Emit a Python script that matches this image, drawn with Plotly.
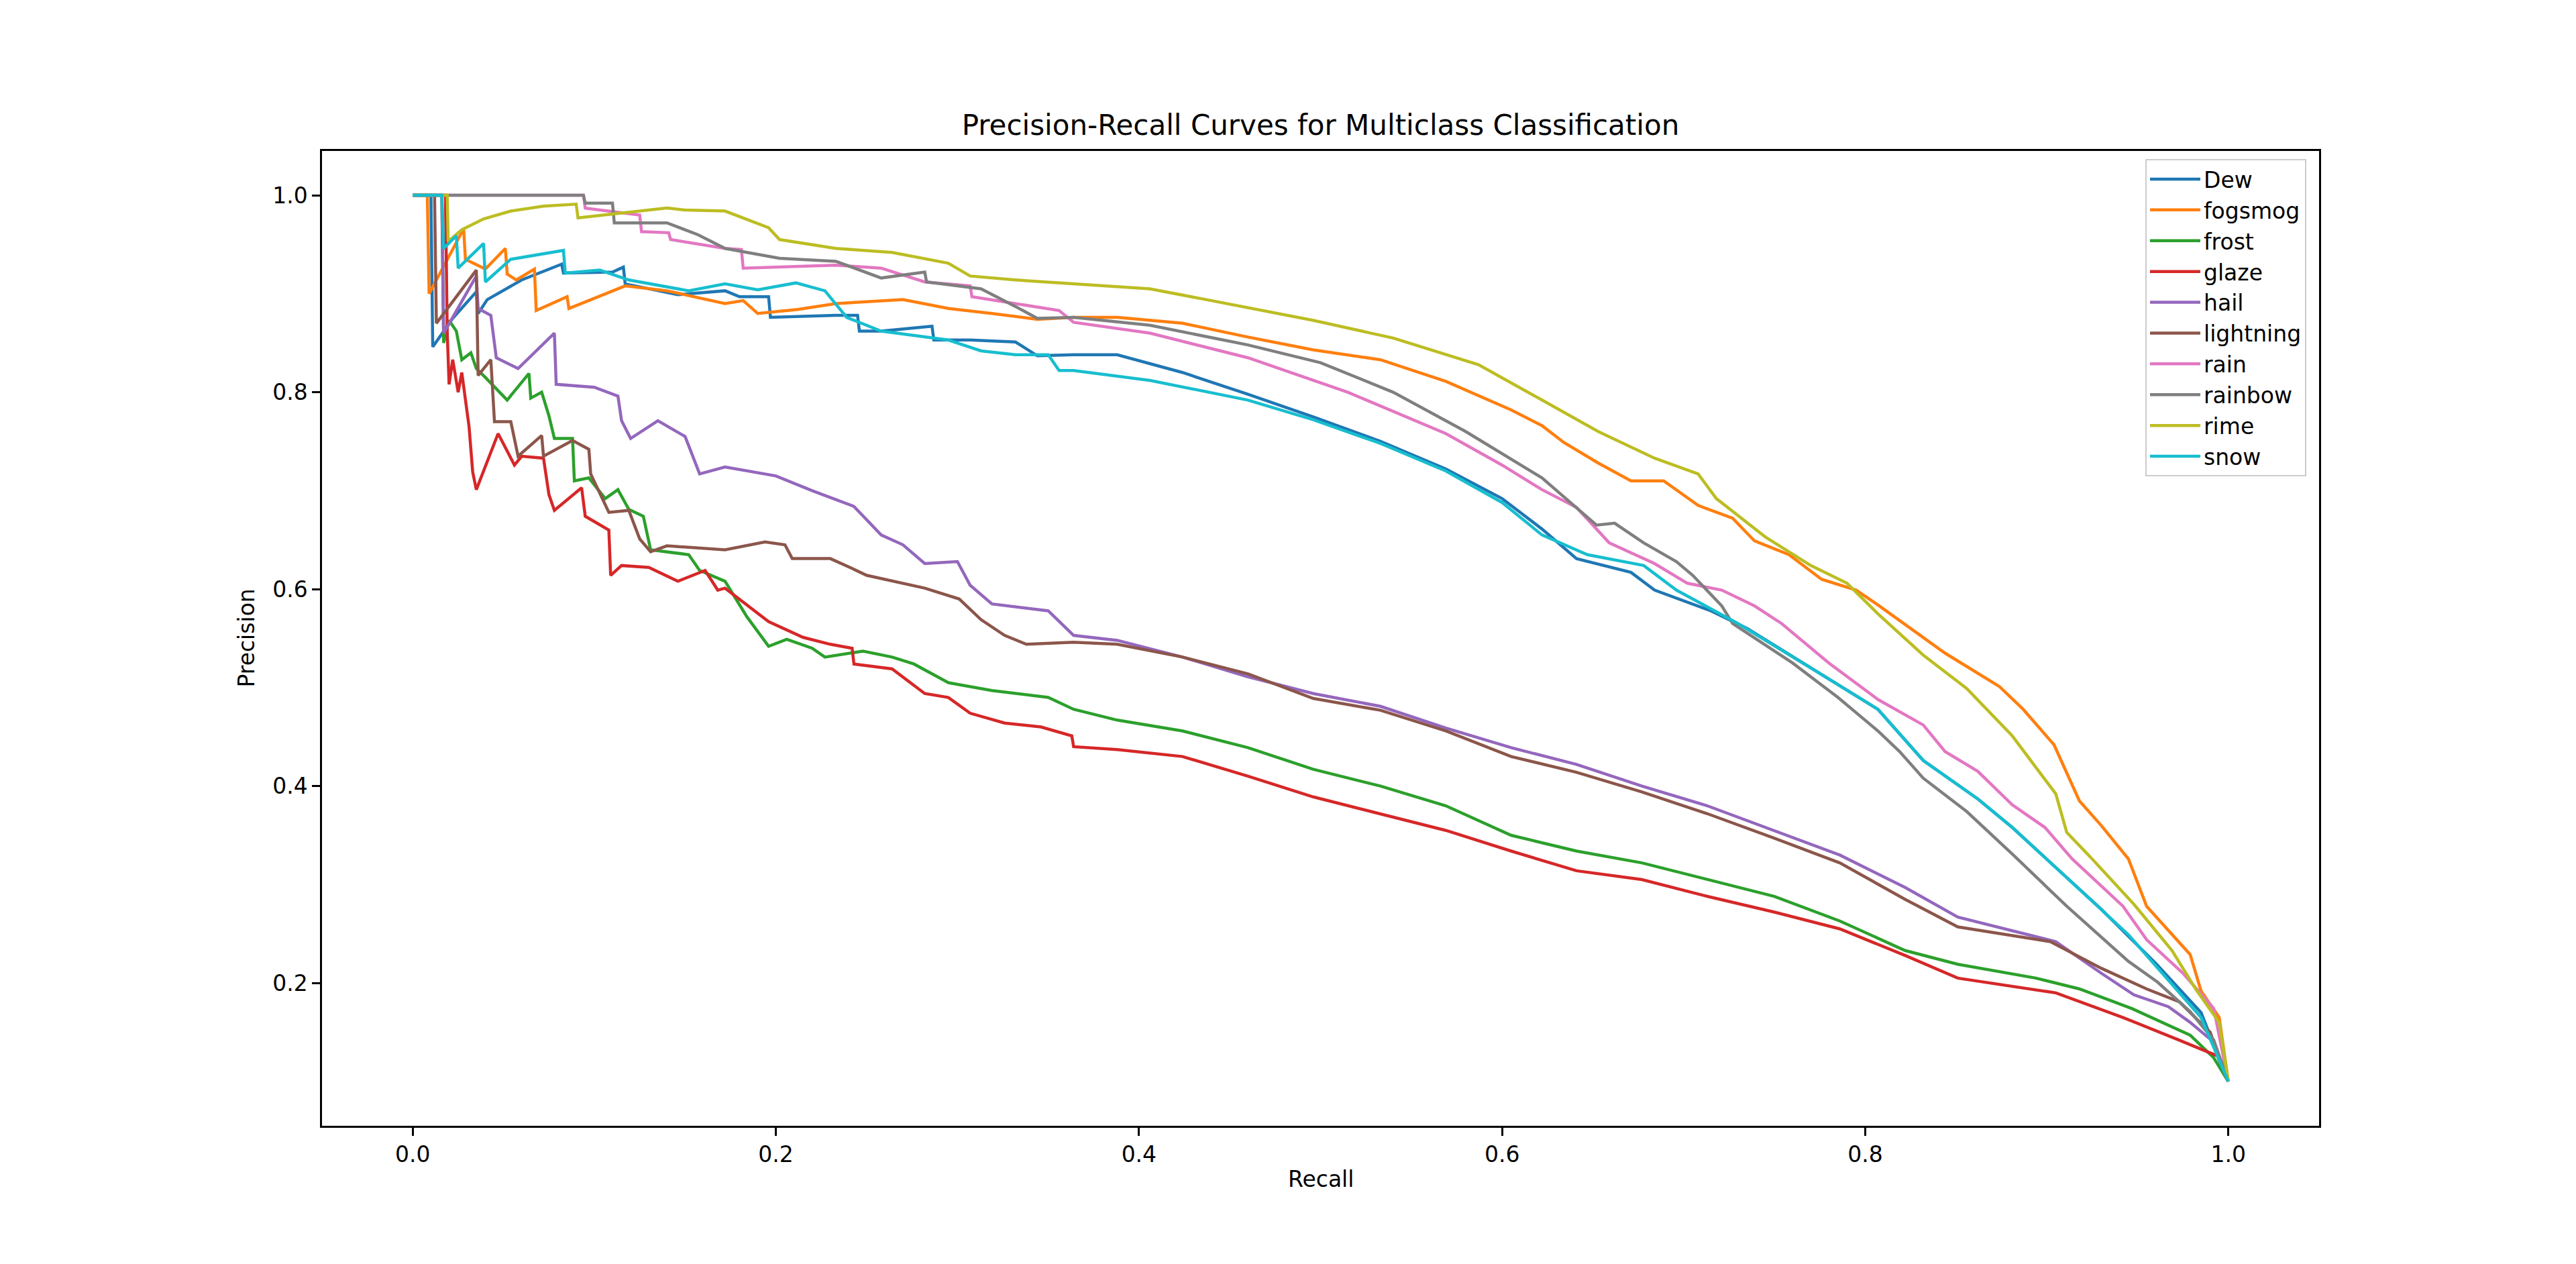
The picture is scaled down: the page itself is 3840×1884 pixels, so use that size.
import plotly.graph_objects as go

# ---- data (recall, precision) ----
class_names = ["Dew", "fogsmog", "frost", "glaze", "hail", "lightning", "rain", "rainbow", "rime", "snow"]
colors = ["#1f77b4", "#ff7f0e", "#2ca02c", "#d62728", "#9467bd",
          "#8c564b", "#e377c2", "#7f7f7f", "#bcbd22", "#17becf"]

dew = [(0, 1.0), (0.010, 1.0), (0.011, 0.846), (0.022, 0.875), (0.035, 0.902), (0.036, 0.880), (0.041, 0.894),
       (0.060, 0.914), (0.082, 0.930), (0.083, 0.921), (0.110, 0.922), (0.116, 0.927), (0.117, 0.910), (0.146, 0.899),
       (0.172, 0.903), (0.180, 0.897), (0.196, 0.897), (0.197, 0.876), (0.233, 0.878), (0.245, 0.878), (0.246, 0.862),
       (0.258, 0.862), (0.286, 0.867), (0.287, 0.853), (0.307, 0.853), (0.332, 0.851), (0.344, 0.837), (0.364, 0.838),
       (0.388, 0.838), (0.424, 0.820), (0.460, 0.798), (0.496, 0.775), (0.533, 0.750), (0.569, 0.722), (0.600, 0.692),
       (0.622, 0.661), (0.641, 0.631), (0.671, 0.617), (0.684, 0.599), (0.715, 0.578), (0.735, 0.560), (0.770, 0.520),
       (0.807, 0.478), (0.832, 0.426), (0.862, 0.387), (0.881, 0.358), (0.900, 0.326), (0.930, 0.275), (0.960, 0.220),
       (0.985, 0.170), (1.0, 0.100)]

fogsmog = [(0, 1.0), (0.008, 1.0), (0.009, 0.900), (0.028, 0.966), (0.029, 0.935), (0.040, 0.925), (0.051, 0.946),
           (0.052, 0.920), (0.057, 0.914), (0.067, 0.925), (0.068, 0.883), (0.085, 0.897), (0.086, 0.885), (0.117, 0.908),
           (0.140, 0.903), (0.172, 0.890), (0.182, 0.893), (0.190, 0.880), (0.212, 0.884), (0.233, 0.890), (0.270, 0.894),
           (0.295, 0.885), (0.319, 0.880), (0.344, 0.874), (0.364, 0.876), (0.388, 0.876), (0.424, 0.870), (0.460, 0.856),
           (0.496, 0.843), (0.533, 0.833), (0.569, 0.811), (0.605, 0.782), (0.622, 0.766), (0.634, 0.749), (0.653, 0.728),
           (0.671, 0.710), (0.689, 0.710), (0.708, 0.685), (0.727, 0.672), (0.739, 0.649), (0.758, 0.635), (0.776, 0.610),
           (0.795, 0.599), (0.807, 0.584), (0.844, 0.535), (0.874, 0.501), (0.887, 0.478), (0.904, 0.442), (0.918, 0.385),
           (0.930, 0.360), (0.945, 0.326), (0.955, 0.278), (0.979, 0.229), (0.985, 0.192), (0.995, 0.165), (1.0, 0.100)]

frost = [(0, 1.0), (0.016, 1.0), (0.017, 0.850), (0.020, 0.873), (0.024, 0.862), (0.027, 0.833), (0.032, 0.840),
         (0.035, 0.824), (0.040, 0.815), (0.052, 0.792), (0.064, 0.819), (0.065, 0.794), (0.071, 0.800), (0.075, 0.776),
         (0.078, 0.753), (0.088, 0.753), (0.089, 0.710), (0.097, 0.713), (0.106, 0.692), (0.113, 0.701), (0.119, 0.681),
         (0.127, 0.674), (0.131, 0.640), (0.152, 0.635), (0.158, 0.619), (0.172, 0.608), (0.184, 0.572), (0.196, 0.542),
         (0.206, 0.549), (0.220, 0.540), (0.227, 0.531), (0.248, 0.537), (0.264, 0.531), (0.276, 0.524), (0.295, 0.505),
         (0.319, 0.497), (0.350, 0.490), (0.364, 0.478), (0.388, 0.467), (0.424, 0.456), (0.460, 0.439), (0.496, 0.417),
         (0.533, 0.400), (0.569, 0.380), (0.605, 0.350), (0.641, 0.334), (0.677, 0.322), (0.713, 0.305), (0.750, 0.288),
         (0.786, 0.263), (0.822, 0.233), (0.851, 0.219), (0.894, 0.205), (0.918, 0.194), (0.947, 0.174), (0.979, 0.147),
         (0.992, 0.124), (1.0, 0.100)]

glaze = [(0, 1.0), (0.018, 1.0), (0.019, 0.860), (0.020, 0.808), (0.022, 0.833), (0.025, 0.800), (0.027, 0.820),
         (0.031, 0.765), (0.033, 0.719), (0.035, 0.701), (0.047, 0.758), (0.056, 0.726), (0.060, 0.735), (0.072, 0.733),
         (0.075, 0.696), (0.078, 0.680), (0.093, 0.703), (0.095, 0.674), (0.108, 0.660), (0.109, 0.614), (0.115, 0.624),
         (0.130, 0.622), (0.146, 0.608), (0.161, 0.619), (0.168, 0.599), (0.172, 0.601), (0.196, 0.567), (0.215, 0.551),
         (0.230, 0.544), (0.242, 0.540), (0.243, 0.524), (0.264, 0.519), (0.282, 0.494), (0.295, 0.490), (0.307, 0.474),
         (0.326, 0.464), (0.346, 0.460), (0.363, 0.451), (0.364, 0.440), (0.388, 0.437), (0.424, 0.430), (0.460, 0.410),
         (0.496, 0.389), (0.533, 0.372), (0.569, 0.355), (0.605, 0.334), (0.641, 0.314), (0.677, 0.305), (0.713, 0.288),
         (0.750, 0.272), (0.786, 0.255), (0.822, 0.228), (0.851, 0.205), (0.905, 0.190), (0.942, 0.165), (0.973, 0.142),
         (0.994, 0.126), (1.0, 0.100)]

hail = [(0, 1.0), (0.016, 1.0), (0.017, 0.860), (0.035, 0.918), (0.036, 0.885), (0.043, 0.878), (0.046, 0.835),
        (0.058, 0.824), (0.078, 0.860), (0.079, 0.808), (0.100, 0.805), (0.113, 0.796), (0.115, 0.771), (0.120, 0.753),
        (0.135, 0.771), (0.150, 0.755), (0.158, 0.717), (0.172, 0.724), (0.200, 0.715), (0.220, 0.700), (0.243, 0.684),
        (0.258, 0.655), (0.270, 0.645), (0.282, 0.626), (0.300, 0.628), (0.307, 0.604), (0.319, 0.585), (0.350, 0.578),
        (0.364, 0.553), (0.388, 0.548), (0.424, 0.531), (0.460, 0.511), (0.496, 0.494), (0.533, 0.481), (0.569, 0.459),
        (0.605, 0.439), (0.641, 0.422), (0.677, 0.400), (0.713, 0.380), (0.750, 0.355), (0.786, 0.330), (0.822, 0.297),
        (0.851, 0.267), (0.905, 0.242), (0.930, 0.210), (0.948, 0.188), (0.967, 0.176), (0.979, 0.160), (0.992, 0.140),
        (1.0, 0.100)]

lightning = [(0, 1.0), (0.012, 1.0), (0.013, 0.870), (0.035, 0.924), (0.036, 0.817), (0.043, 0.833), (0.045, 0.770),
             (0.054, 0.770), (0.058, 0.735), (0.071, 0.756), (0.072, 0.735), (0.088, 0.751), (0.097, 0.742),
             (0.098, 0.717), (0.108, 0.678), (0.119, 0.680), (0.125, 0.651), (0.131, 0.638), (0.140, 0.644),
             (0.172, 0.640), (0.194, 0.648), (0.205, 0.645), (0.209, 0.631), (0.230, 0.631), (0.242, 0.621),
             (0.250, 0.614), (0.282, 0.601), (0.301, 0.590), (0.313, 0.569), (0.326, 0.553), (0.338, 0.544),
             (0.364, 0.546), (0.388, 0.544), (0.424, 0.531), (0.460, 0.514), (0.496, 0.489), (0.533, 0.477),
             (0.569, 0.456), (0.605, 0.430), (0.641, 0.414), (0.677, 0.394), (0.713, 0.372), (0.750, 0.347),
             (0.786, 0.322), (0.822, 0.285), (0.851, 0.257), (0.902, 0.242), (0.930, 0.215), (0.955, 0.194),
             (0.973, 0.181), (0.990, 0.150), (1.0, 0.100)]

rain = [(0, 1.0), (0.094, 1.0), (0.095, 0.987), (0.125, 0.980), (0.126, 0.963), (0.141, 0.962), (0.142, 0.955),
        (0.172, 0.946), (0.181, 0.945), (0.182, 0.926), (0.233, 0.929), (0.258, 0.926), (0.282, 0.912), (0.307, 0.908),
        (0.308, 0.897), (0.332, 0.890), (0.356, 0.883), (0.364, 0.871), (0.406, 0.860), (0.460, 0.835), (0.515, 0.800),
        (0.569, 0.758), (0.600, 0.726), (0.622, 0.701), (0.641, 0.683), (0.659, 0.647), (0.684, 0.626), (0.702, 0.606),
        (0.721, 0.599), (0.739, 0.583), (0.754, 0.565), (0.780, 0.525), (0.807, 0.488), (0.832, 0.462), (0.844, 0.435),
        (0.862, 0.415), (0.881, 0.381), (0.899, 0.358), (0.914, 0.326), (0.942, 0.278), (0.955, 0.244), (0.975, 0.210),
        (0.992, 0.174), (1.0, 0.100)]

rainbow = [(0, 1.0), (0.094, 1.0), (0.095, 0.992), (0.110, 0.992), (0.111, 0.972), (0.140, 0.972), (0.157, 0.960),
           (0.172, 0.946), (0.202, 0.936), (0.233, 0.933), (0.258, 0.916), (0.282, 0.922), (0.283, 0.912),
           (0.313, 0.905), (0.332, 0.887), (0.344, 0.875), (0.364, 0.876), (0.406, 0.868), (0.460, 0.848),
           (0.500, 0.830), (0.540, 0.800), (0.580, 0.760), (0.622, 0.713), (0.652, 0.665), (0.662, 0.667),
           (0.678, 0.647), (0.696, 0.628), (0.705, 0.614), (0.721, 0.583), (0.727, 0.565), (0.760, 0.525),
           (0.785, 0.490), (0.807, 0.456), (0.819, 0.435), (0.832, 0.408), (0.856, 0.374), (0.881, 0.331),
           (0.911, 0.278), (0.945, 0.222), (0.961, 0.201), (0.979, 0.171), (0.992, 0.142), (1.0, 0.100)]

rime = [(0, 1.0), (0.019, 1.0), (0.0195, 0.953), (0.027, 0.965), (0.039, 0.976), (0.054, 0.984), (0.072, 0.989),
        (0.090, 0.991), (0.091, 0.977), (0.140, 0.987), (0.150, 0.985), (0.172, 0.984), (0.196, 0.967), (0.202, 0.955),
        (0.233, 0.946), (0.264, 0.942), (0.295, 0.931), (0.307, 0.918), (0.332, 0.914), (0.364, 0.910), (0.406, 0.905),
        (0.440, 0.893), (0.496, 0.873), (0.540, 0.855), (0.587, 0.828), (0.622, 0.792), (0.653, 0.760), (0.684, 0.733),
        (0.708, 0.717), (0.718, 0.692), (0.745, 0.653), (0.770, 0.624), (0.790, 0.606), (0.807, 0.575), (0.832, 0.533),
        (0.856, 0.499), (0.881, 0.451), (0.905, 0.392), (0.911, 0.353), (0.925, 0.326), (0.948, 0.280), (0.969, 0.233),
        (0.982, 0.194), (0.995, 0.160), (1.0, 0.100)]

snow = [(0, 1.0), (0.016, 1.0), (0.017, 0.946), (0.024, 0.959), (0.025, 0.926), (0.039, 0.951), (0.040, 0.912),
        (0.054, 0.935), (0.083, 0.944), (0.084, 0.921), (0.103, 0.924), (0.119, 0.914), (0.152, 0.903), (0.172, 0.910),
        (0.190, 0.904), (0.211, 0.911), (0.227, 0.903), (0.239, 0.876), (0.258, 0.862), (0.295, 0.853), (0.313, 0.842),
        (0.332, 0.838), (0.350, 0.838), (0.356, 0.822), (0.364, 0.822), (0.406, 0.812), (0.460, 0.792), (0.496, 0.772),
        (0.533, 0.748), (0.569, 0.720), (0.600, 0.688), (0.622, 0.655), (0.647, 0.635), (0.678, 0.624), (0.696, 0.599),
        (0.715, 0.580), (0.730, 0.565), (0.770, 0.520), (0.807, 0.478), (0.832, 0.426), (0.862, 0.387), (0.881, 0.358),
        (0.900, 0.326), (0.928, 0.278), (0.945, 0.249), (0.967, 0.203), (0.985, 0.165), (1.0, 0.100)]

curves = [dew, fogsmog, frost, glaze, hail, lightning, rain, rainbow, rime, snow]

x_ticks = [0.0, 0.2, 0.4, 0.6, 0.8, 1.0]
x_tick_labels = ["0.0", "0.2", "0.4", "0.6", "0.8", "1.0"]
y_ticks = [0.2, 0.4, 0.6, 0.8, 1.0]
y_tick_labels = ["0.2", "0.4", "0.6", "0.8", "1.0"]

# ---- figure ----
FONT = "DejaVu Sans"
W, H = 3840, 1884
L, R, T, B = 480, 3457, 225, 1678

fig = go.Figure()
for name, col, pts in zip(class_names, colors, curves):
    rec = [p[0] for p in pts]
    prec = [p[1] for p in pts]
    fig.add_trace(go.Scatter(x=rec, y=prec, mode="lines", name=name,
                             line=dict(color=col, width=4.5)))

axis_common = dict(showgrid=False, zeroline=False, showline=True, mirror=True,
                   linecolor="black", linewidth=2.5, ticks="outside", ticklen=12,
                   tickwidth=2.5, tickcolor="black",
                   tickfont=dict(family=FONT, size=33, color="black"))

fig.update_layout(
    width=W, height=H, autosize=False,
    paper_bgcolor="white", plot_bgcolor="white",
    margin=dict(l=L, r=W - R, t=T, b=H - B, pad=0),
    font=dict(family=FONT, color="black"),
    title=dict(text="Precision-Recall Curves for Multiclass Classification",
               font=dict(family=FONT, size=42, color="black"),
               x=0.5, xref="paper", xanchor="center",
               y=1 - 186 / H, yref="container", yanchor="middle"),
    xaxis=dict(range=[-0.05, 1.05], tickvals=x_ticks, ticktext=x_tick_labels, **axis_common),
    yaxis=dict(range=[0.055, 1.045], tickvals=y_ticks, ticktext=y_tick_labels, **axis_common),
    legend=dict(x=(3438 - L) / (R - L), xanchor="right", y=(B - 237) / (B - T), yanchor="top",
                bgcolor="rgba(255,255,255,0.8)", bordercolor="#cccccc", borderwidth=2,
                font=dict(family=FONT, size=33, color="black"), tracegroupgap=0,
                itemwidth=75),
    showlegend=True,
)

fig.add_annotation(text="Recall", xref="paper", yref="paper", x=0.5, y=(B - 1758) / (B - T),
                   xanchor="center", yanchor="middle", showarrow=False,
                   font=dict(family=FONT, size=33, color="black"))
fig.add_annotation(text="Precision", xref="paper", yref="paper", x=(367 - L) / (R - L), y=0.5,
                   xanchor="center", yanchor="middle", textangle=-90, showarrow=False,
                   font=dict(family=FONT, size=33, color="black"))

fig.write_html("out.html", config={"displayModeBar": False},
               post_script="document.body.style.margin='0';")
